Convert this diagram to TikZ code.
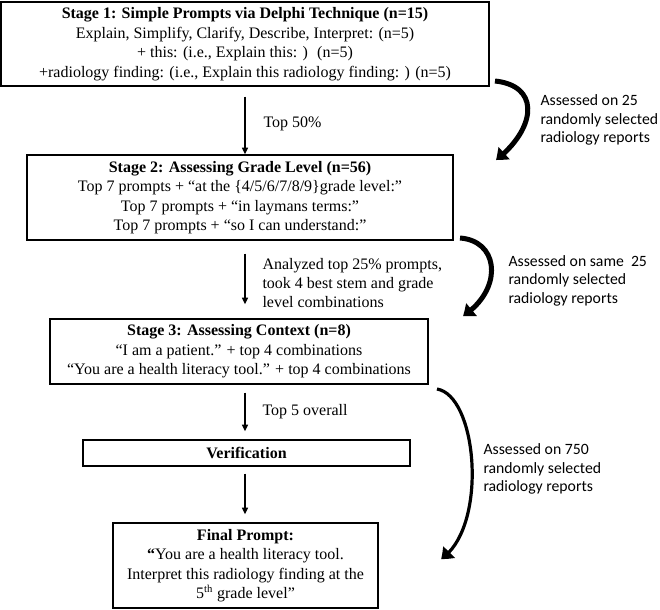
\documentclass[tikz,border=0pt]{standalone}
\usepackage{fontspec}
\setmainfont{Liberation Serif}
\newfontfamily\notefont{Carlito}
\usetikzlibrary{arrows.meta,bending}

\tikzset{every picture/.style={line width=0.75pt}}
\tikzset{
  stagebox/.style={draw, line width=1pt, inner sep=0pt, align=center, font=\fontsize{12}{14.6}\selectfont},
  flow/.style={-{Triangle[length=5pt,width=4.5pt]}, line width=1pt},
  sweep/.style={-{Triangle[length=8pt,width=12pt,bend]}, line width=3.75pt},
  tag/.style={anchor=west, inner sep=0pt, align=left, font=\fontsize{12}{14.6}\selectfont},
  note/.style={anchor=west, inner sep=0pt, align=left, font=\notefont\fontsize{11.8}{13.8}\selectfont}
}

\begin{document}
\begin{tikzpicture}[x=0.75pt,y=0.75pt,yscale=-1,xscale=1]
\path[use as bounding box, fill=white] (0,0) rectangle (660,610); %set diagram left start at 0, and has height of 610

%Shape: Rectangle [id:stageone]
\node (stageone) [stagebox, minimum width=366pt, minimum height=63pt] at (245,44) {\textbf{Stage 1: Simple Prompts via Delphi Technique (n=15)}\\Explain, Simplify, Clarify, Describe, Interpret: (n=5)\\+ this: (i.e., Explain this: )~ (n=5)\\+radiology finding: (i.e., Explain this radiology finding: ) (n=5)};
%Shape: Rectangle [id:stagetwo]
\node (stagetwo) [stagebox, minimum width=319.5pt, minimum height=63.75pt] at (240,197.5) {\textbf{Stage 2: Assessing Grade Level (n=56)}\\Top 7 prompts + “at the \{4/5/6/7/8/9\}grade level:”\\Top 7 prompts + “in laymans terms:”\\Top 7 prompts + “so I can understand:”};
%Shape: Rectangle [id:stagethree]
\node (stagethree) [stagebox, minimum width=283.5pt, minimum height=48.75pt] at (239,351.5) {\textbf{Stage 3: Assessing Context (n=8)}\\“I am a patient.” + top 4 combinations\\“You are a health literacy tool.” + top 4 combinations};
%Shape: Rectangle [id:verify]
\node (verify) [stagebox, minimum width=245.25pt, minimum height=19.5pt] at (246.5,453) {\textbf{Verification}};
%Shape: Rectangle [id:final]
\node (final) [stagebox, minimum width=198.75pt, minimum height=63.75pt] at (245.5,565.5) {\textbf{Final Prompt:}\\\textbf{“}You are a health literacy tool.\\Interpret this radiology finding at the\\5\textsuperscript{th} grade level”};

%Straight Lines
\draw[flow, shorten <=7.5pt] (stageone.south) -- (stageone.south |- stagetwo.north);
\draw[flow, shorten <=9.75pt, shorten >=10.5pt] (stageone.south |- stagetwo.south) -- (stageone.south |- stagethree.north);
\draw[flow, shorten <=6pt, shorten >=6pt] (stageone.south |- stagethree.south) -- (stageone.south |- verify.north);
\draw[flow, shorten <=5.25pt, shorten >=6pt] (stageone.south |- verify.south) -- (stageone.south |- final.north);

%Curve Lines
\coordinate (sweepAin) at (495,81);
\coordinate (sweepAout) at (496,160);
\coordinate (sweepBin) at (460,238);
\coordinate (sweepBout) at (463,316);
\coordinate (sweepCin) at (437,389);
\coordinate (sweepCout) at (441,559);
\draw[sweep] (sweepAin) .. controls (542,86) and (535,130) .. (sweepAout);
\draw[sweep] (sweepBin) .. controls (500,241) and (503,290) .. (sweepBout);
\draw[sweep, line width=2.4pt] (sweepCin) .. controls (478,396) and (488,528) .. (sweepCout);

% Text Node
\node (cutone) [tag] at (263,124) {Top 50\%};
% Text Node
\node (cuttwo) [tag] at (262,283) {Analyzed top 25\% prompts,\\took 4 best stem and grade\\level combinations};
% Text Node
\node (cutthree) [tag] at (262,412) {Top 5 overall};
% Text Node
\node (sampleone) [note] at (540,120) {Assessed on 25\\randomly selected\\radiology reports};
% Text Node
\node (sampletwo) [note] at (508,280.5) {Assessed on same~ 25\\randomly selected\\radiology reports};
% Text Node
\node (samplethree) [note] at (483,469) {Assessed on 750\\randomly selected\\radiology reports};
\end{tikzpicture}
\end{document}
